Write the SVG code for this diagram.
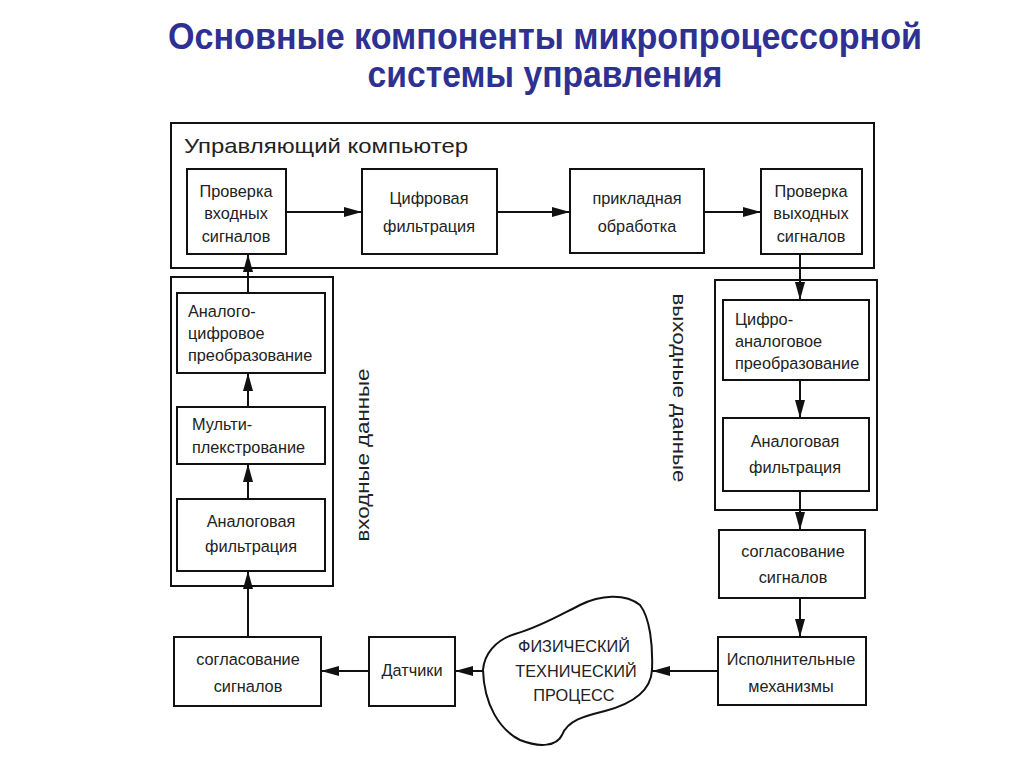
<svg xmlns="http://www.w3.org/2000/svg" width="1024" height="767" viewBox="0 0 1024 767">
<defs>
<style>
.box{fill:#fff;stroke:#111;stroke-width:2}
.frame{fill:none;stroke:#111;stroke-width:2}
.t{font-family:"Liberation Sans",Arial,sans-serif;font-size:16.3px;fill:#222;text-anchor:middle}
.tl{font-family:"Liberation Sans",Arial,sans-serif;font-size:16.3px;fill:#222}
.title{font-family:"Liberation Sans",Arial,sans-serif;font-size:36px;font-weight:bold;fill:#2e3192;text-anchor:middle}
.side{font-family:"Liberation Sans",Arial,sans-serif;font-size:19px;fill:#222;text-anchor:middle}
.c{fill:none;stroke:#111;stroke-width:2}
</style>
<marker id="ah" markerUnits="userSpaceOnUse" markerWidth="20" markerHeight="12" refX="18" refY="5" orient="auto">
<path d="M0,0 L18,5 L0,10 z" fill="#111"/>
</marker>
</defs>
<rect width="1024" height="767" fill="#fff"/>
<g id="title">
<text class="title" x="545" y="49" textLength="754" lengthAdjust="spacingAndGlyphs">Основные компоненты микропроцессорной</text>
<text class="title" x="545" y="87" textLength="355" lengthAdjust="spacingAndGlyphs">системы управления</text>
</g>
<g id="computer">
<rect class="frame" x="171" y="123" width="703" height="145"/>
<text class="tl" x="184" y="153" style="font-size:21px" textLength="284" lengthAdjust="spacingAndGlyphs">Управляющий компьютер</text>
</g>
<g id="input-frame">
<rect class="frame" x="171" y="277" width="162" height="309"/>
<text class="side" transform="translate(369,455) rotate(-90)" textLength="173" lengthAdjust="spacingAndGlyphs">входные данные</text>
</g>
<g id="output-frame">
<rect class="frame" x="715" y="280" width="162" height="230"/>
<text class="side" transform="translate(673,388) rotate(90)" textLength="189" lengthAdjust="spacingAndGlyphs">выходные данные</text>
</g>
<g id="connectors">
<line class="c" x1="286" y1="212" x2="362" y2="212" marker-end="url(#ah)"/>
<line class="c" x1="497" y1="212" x2="570" y2="212" marker-end="url(#ah)"/>
<line class="c" x1="704" y1="212" x2="761" y2="212" marker-end="url(#ah)"/>
<line class="c" x1="800" y1="254" x2="800" y2="300" marker-end="url(#ah)"/>
<line class="c" x1="800" y1="380" x2="800" y2="418" marker-end="url(#ah)"/>
<line class="c" x1="800" y1="491" x2="800" y2="530" marker-end="url(#ah)"/>
<line class="c" x1="800" y1="598" x2="800" y2="637" marker-end="url(#ah)"/>
<line class="c" x1="718" y1="671" x2="652" y2="671" marker-end="url(#ah)"/>
<line class="c" x1="483" y1="671" x2="455" y2="671" marker-end="url(#ah)"/>
<line class="c" x1="369" y1="671" x2="321" y2="671" marker-end="url(#ah)"/>
<line class="c" x1="248" y1="637" x2="248" y2="571" marker-end="url(#ah)"/>
<line class="c" x1="248" y1="499" x2="248" y2="464" marker-end="url(#ah)"/>
<line class="c" x1="248" y1="407" x2="248" y2="373" marker-end="url(#ah)"/>
<line class="c" x1="248" y1="293" x2="248" y2="254" marker-end="url(#ah)"/>
</g>
<g id="check-input">
<rect class="box" x="187" y="169" width="99" height="85"/>
<text class="t" x="236" y="197">Проверка</text>
<text class="t" x="236" y="219">входных</text>
<text class="t" x="236" y="242">сигналов</text>
</g>
<g id="digital-filter">
<rect class="box" x="362" y="169" width="135" height="85"/>
<text class="t" x="429" y="204">Цифровая</text>
<text class="t" x="429" y="232">фильтрация</text>
</g>
<g id="application">
<rect class="box" x="570" y="169" width="134" height="84"/>
<text class="t" x="637" y="204">прикладная</text>
<text class="t" x="637" y="232">обработка</text>
</g>
<g id="check-output">
<rect class="box" x="761" y="169" width="101" height="85"/>
<text class="t" x="811" y="197">Проверка</text>
<text class="t" x="811" y="219">выходных</text>
<text class="t" x="811" y="242">сигналов</text>
</g>
<g id="adc">
<rect class="box" x="177" y="293" width="148" height="80"/>
<text class="tl" x="188" y="317">Аналого-</text>
<text class="tl" x="188" y="339">цифровое</text>
<text class="tl" x="188" y="361">преобразование</text>
</g>
<g id="mux">
<rect class="box" x="177" y="407" width="148" height="57"/>
<text class="tl" x="192" y="430">Мульти-</text>
<text class="tl" x="192" y="453">плекстрование</text>
</g>
<g id="analog-filter-in">
<rect class="box" x="177" y="499" width="148" height="72"/>
<text class="t" x="251" y="527">Аналоговая</text>
<text class="t" x="251" y="552">фильтрация</text>
</g>
<g id="dac">
<rect class="box" x="723" y="300" width="146" height="80"/>
<text class="tl" x="735" y="325">Цифро-</text>
<text class="tl" x="735" y="347">аналоговое</text>
<text class="tl" x="735" y="369">преобразование</text>
</g>
<g id="analog-filter-out">
<rect class="box" x="723" y="418" width="146" height="73"/>
<text class="t" x="795" y="447">Аналоговая</text>
<text class="t" x="795" y="473">фильтрация</text>
</g>
<g id="matching-out">
<rect class="box" x="719" y="530" width="146" height="68"/>
<text class="t" x="793" y="557">согласование</text>
<text class="t" x="793" y="583">сигналов</text>
</g>
<g id="actuators">
<rect class="box" x="718" y="637" width="148" height="68"/>
<text class="t" x="791" y="665">Исполнительные</text>
<text class="t" x="791" y="692">механизмы</text>
</g>
<g id="process">
<path class="box" d="M483,670 C484,655 495,640 515,634 C540,627 560,615 580,605 C600,595 625,593 640,605 C650,618 653,645 652,670 C651,690 635,703 605,711 C585,716 568,720 562,735 C557,746 540,748 520,740 C500,730 484,705 483,670 Z"/>
<text class="t" x="574" y="652">ФИЗИЧЕСКИЙ</text>
<text class="t" x="576" y="677">ТЕХНИЧЕСКИЙ</text>
<text class="t" x="574" y="701">ПРОЦЕСС</text>
</g>
<g id="sensors">
<rect class="box" x="369" y="637" width="86" height="69"/>
<text class="t" x="412" y="676">Датчики</text>
</g>
<g id="matching-in">
<rect class="box" x="174" y="637" width="147" height="69"/>
<text class="t" x="248" y="665">согласование</text>
<text class="t" x="248" y="692">сигналов</text>
</g>
</svg>
